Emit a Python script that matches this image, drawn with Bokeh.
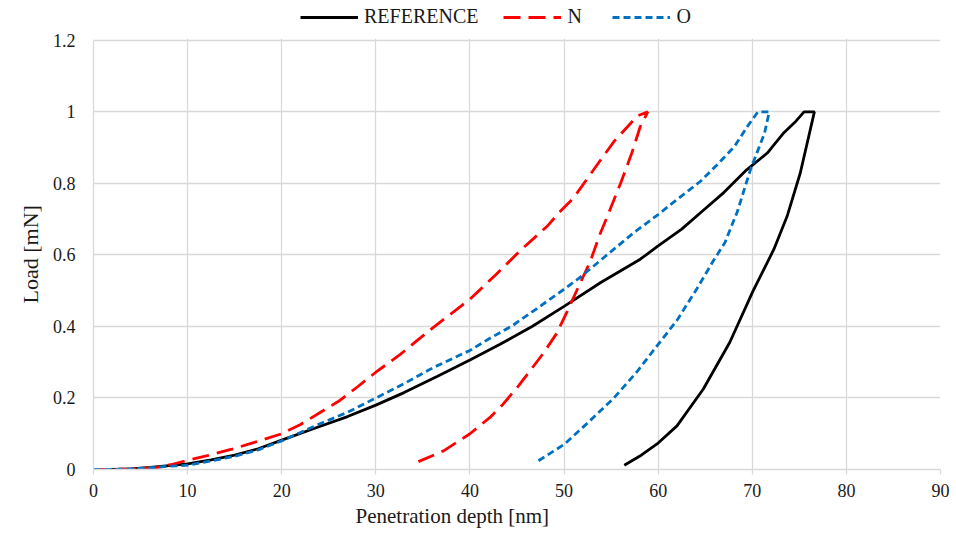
from bokeh.plotting import figure
from bokeh.models import (Range1d, FixedTicker, NumeralTickFormatter, Legend, LegendItem, Title,
                          BoxAnnotation)
from bokeh.embed import file_html
from bokeh.resources import INLINE

# ---- data ----
ref_x_load = [0, 2, 4, 6, 8, 10, 12.5, 15, 17.5, 20, 23.8, 27, 30, 33, 36.5, 40, 43.2, 46.6,
              50, 53.9, 58.1, 60, 62.5, 64.5, 67, 69.4, 71.6, 72.3, 73.3, 74.5, 75.5, 76.6]
ref_y_load = [0, 0, 0.002, 0.006, 0.011, 0.016, 0.027, 0.04, 0.058, 0.082, 0.118, 0.148, 0.18,
              0.215, 0.26, 0.306, 0.35, 0.4, 0.456, 0.523, 0.588, 0.625, 0.672, 0.718, 0.775,
              0.838, 0.885, 0.908, 0.94, 0.97, 1.0, 1.0]
ref_x_unload = [75.1, 73.7, 72.3, 70.1, 67.6, 64.8, 62.0, 60.0, 58.2, 56.4]
ref_y_unload = [0.829, 0.708, 0.616, 0.5, 0.355, 0.225, 0.122, 0.074, 0.04, 0.012]

n_x_load = [0, 2, 4, 6.8, 8.5, 10, 12, 14.6, 17, 20, 22, 24, 26, 28, 30, 32.6, 35.7, 40, 42.8,
            45.3, 48.2, 49.6, 51.0, 53.9, 55.3, 57.8, 58.9]
n_y_load = [0, 0, 0.002, 0.006, 0.015, 0.026, 0.038, 0.056, 0.075, 0.1, 0.126, 0.158, 0.19,
            0.23, 0.272, 0.322, 0.389, 0.476, 0.546, 0.611, 0.68, 0.722, 0.759, 0.866, 0.917,
            0.989, 1.0]
n_x_unload = [58.1, 57.2, 56.0, 54.6, 53.8, 52.8, 51.5, 50.3, 49.2, 47.8, 45.2, 43.5, 42.1,
              40.0, 37.2, 33.8]
n_y_unload = [0.959, 0.885, 0.8, 0.708, 0.657, 0.583, 0.509, 0.44, 0.38, 0.325, 0.235, 0.182,
              0.145, 0.1, 0.052, 0.014]

o_x_load = [0, 2, 4, 6, 8, 10, 12.5, 15, 17.5, 20, 23.8, 27, 30, 33, 36.1, 40, 42, 44.5, 47,
            50, 51.6, 54.2, 57.4, 60, 62, 64.5, 66.3, 68.1, 69.5, 70.6, 71.8]
o_y_load = [0, 0, 0.002, 0.005, 0.009, 0.012, 0.024, 0.037, 0.055, 0.08, 0.125, 0.16, 0.2,
            0.24, 0.285, 0.333, 0.365, 0.402, 0.448, 0.504, 0.535, 0.592, 0.662, 0.713, 0.755,
            0.806, 0.853, 0.903, 0.96, 1.0, 1.0]
o_x_unload = [71.3, 69.8, 68.4, 67.1, 65.9, 64.1, 62.0, 60.0, 57.8, 55.3, 52.5, 50.0, 47.2]
o_y_unload = [0.94, 0.838, 0.72, 0.635, 0.585, 0.505, 0.417, 0.35, 0.275, 0.2, 0.13, 0.07, 0.023]

x_ticks = [0, 10, 20, 30, 40, 50, 60, 70, 80, 90]
y_ticks = [0, 0.2, 0.4, 0.6, 0.8, 1.0, 1.2]

series_names = ["REFERENCE", "N", "O"]

FONT = "Liberation Serif"
TXT = "#1a1a1a"
GRID = "#d9d9d9"

# frame: x-axis at page y 471, 1.2 at page y 40; frame extended upward to hold the legend
Y_MAX = 1.2
TOP_PAD = 5
PX = Y_MAX / (471 - 40)          # data units per pixel
y_end = Y_MAX + (40 - TOP_PAD) * PX

p = figure(width=950, height=530, output_backend="svg", toolbar_location=None,
           x_range=Range1d(0, 90), y_range=Range1d(0, y_end),
           min_border_left=93, min_border_right=10, min_border_top=TOP_PAD, min_border_bottom=59)
p.outline_line_color = None
p.background_fill_color = "white"

# grid
p.xgrid.ticker = FixedTicker(ticks=x_ticks)
p.ygrid.ticker = FixedTicker(ticks=y_ticks)
for g in (p.xgrid, p.ygrid):
    g.grid_line_color = GRID
    g.grid_line_width = 1.3

# mask vertical grid lines above the 1.2 line (legend area)
p.add_layout(BoxAnnotation(bottom=Y_MAX + 1.5 * PX, fill_color="white", fill_alpha=1.0,
                           line_color=None, level="underlay"))

# axes
p.xaxis.ticker = FixedTicker(ticks=x_ticks)
p.yaxis.ticker = FixedTicker(ticks=y_ticks)
p.yaxis.bounds = (0, Y_MAX)
p.yaxis.formatter = NumeralTickFormatter(format="0.[0]")
for ax in (p.xaxis, p.yaxis):
    ax.axis_line_color = GRID
    ax.axis_line_width = 1.3
    ax.major_tick_line_color = GRID
    ax.major_tick_line_width = 1.3
    ax.minor_tick_line_color = None
    ax.major_tick_in = 0
    ax.major_label_text_font = FONT
    ax.major_label_text_font_size = "18px"
    ax.major_label_text_color = TXT
p.xaxis.major_tick_out = 5
p.xaxis.major_label_standoff = 9
p.yaxis.major_tick_out = 0
p.yaxis.major_label_standoff = 18

# axis titles (placed as in the reference, centred on the 0..1.2 span / left of centre)
p.add_layout(Title(text="Load [mN]", align="left", offset=166,
                   text_font=FONT, text_font_size="22px", text_color=TXT,
                   text_font_style="normal", standoff=14), "left")
p.add_layout(Title(text="Penetration depth [nm]", align="left", offset=262,
                   text_font=FONT, text_font_size="21px", text_color=TXT,
                   text_font_style="normal", standoff=5), "below")

# curves
r_ref = p.line(ref_x_load + ref_x_unload, ref_y_load + ref_y_unload,
               line_color="black", line_width=2.8)
r_n = p.line(n_x_load + n_x_unload, n_y_load + n_y_unload,
             line_color="#ff0000", line_width=2.8, line_dash="17 8")
r_o = p.line(o_x_load + o_x_unload, o_y_load + o_y_unload,
             line_color="#0070c0", line_width=2.8, line_dash="7 4")

legend = Legend(items=[LegendItem(label=series_names[0], renderers=[r_ref]),
                       LegendItem(label=series_names[1], renderers=[r_n]),
                       LegendItem(label=series_names[2], renderers=[r_o])],
                location=(207, 441), orientation="horizontal",
                label_text_font=FONT, label_text_font_size="20px", label_text_color=TXT,
                glyph_width=58, glyph_height=20, label_standoff=6, spacing=25,
                padding=0, margin=0, border_line_color=None, background_fill_alpha=0)
p.add_layout(legend)

open("out.html", "w").write(file_html(p, INLINE))
